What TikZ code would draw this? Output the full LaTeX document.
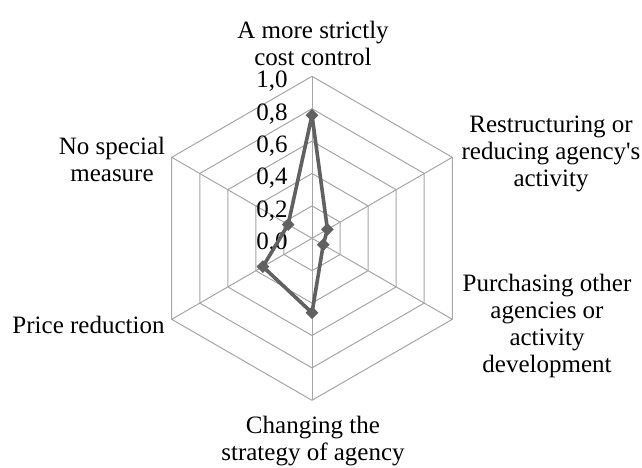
\documentclass[tikz,border=0pt]{standalone}
\usepackage{fontspec}
\setmainfont{Liberation Serif}
\usetikzlibrary{shapes.geometric}

\begin{document}
\begin{tikzpicture}[x=0.5pt, y=0.5pt]
	\tikzstyle{grid} = [draw=gray!70, line width=0.5pt]
	\tikzstyle{series} = [draw=black!62, line width=1.8pt, line join=round]
	\tikzstyle{marker} = [diamond, fill=black!62, minimum width=6.5pt, minimum height=6.5pt, inner sep=0pt]
	\tikzstyle{tick} = [anchor=east, inner sep=0pt, font=\fontsize{12.5}{13.5}\selectfont]
	\tikzstyle{cat} = [align=center, inner sep=0pt, font=\fontsize{12.5}{13.5}\selectfont]

	\useasboundingbox (0,0) rectangle (642,467);

	\begin{scope}[shift={(312,228.7)}]
		\coordinate (o) at (0,0);
		% rings
		\foreach \r in {32.4,64.8,97.2,129.6,162}
			\draw[grid] (90:\r) -- (30:\r) -- (-30:\r) -- (-90:\r) -- (210:\r) -- (150:\r) -- cycle;
		% axes
		\foreach \a/\n in {90/1,30/2,-30/3,-90/4,210/5,150/6} {
			\coordinate (ax\n) at (\a:162);
			\draw[grid] (o) -- (ax\n);
		}
		% scale
		\foreach \v/\t in {0/{0,0},1/{0,2},2/{0,4},3/{0,6},4/{0,8},5/{1,0}}
			\node[tick] (t\v) at (-24,32.4*\v-5) {\t};

		% data
		\coordinate (p1) at (90:0.76*162);
		\coordinate (p2) at (30:0.11*162);
		\coordinate (p3) at (-30:0.08*162);
		\coordinate (p4) at (-90:0.46*162);
		\coordinate (p5) at (210:0.35*162);
		\coordinate (p6) at (150:0.17*162);
		\draw[series] (p1) -- (p2) -- (p3) -- (p4) -- (p5) -- (p6) -- cycle;
		\foreach \n in {1,...,6}
			\node[marker] (m\n) at (p\n) {};
	\end{scope}

	% categories
	\node[cat] (c1) at (313,424) {A more strictly\\cost control};
	\node[cat] (c2) at (551,313) {Restructuring or\\reducing agency\textquotesingle s\\activity};
	\node[cat] (c3) at (547,141) {Purchasing other\\agencies or\\activity\\development};
	\node[cat] (c4) at (313,26) {Changing the\\strategy of agency};
	\node[cat] (c5) at (88.5,142) {Price reduction};
	\node[cat] (c6) at (112,308) {No special\\measure};
\end{tikzpicture}
\end{document}
